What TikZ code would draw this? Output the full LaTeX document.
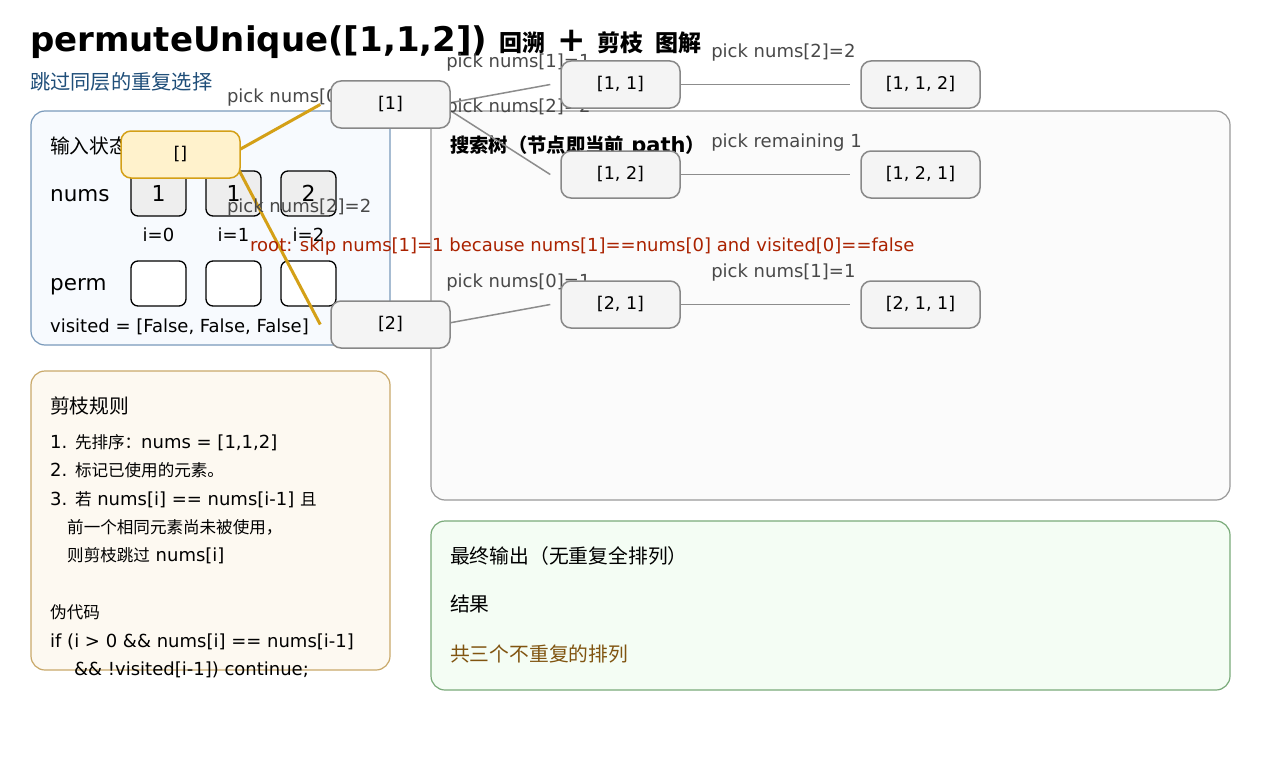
\documentclass[tikz,border=0pt]{standalone}
\usepackage{fontspec}
\setmainfont{DejaVu Sans}
\newfontfamily\cjk[Scale=0.92]{Noto Sans CJK SC}
\newcommand\zh[1]{{\cjk #1}}
\newcommand\zhT[1]{{\cjk\fontsize{25}{30}\selectfont #1}}
\definecolor{pOneS}{RGB}{122,154,187}
\definecolor{pOneF}{RGB}{247,250,254}
\definecolor{pTwoS}{RGB}{201,169,106}
\definecolor{pTwoF}{RGB}{253,249,241}
\definecolor{pThreeS}{RGB}{153,153,153}
\definecolor{pThreeF}{RGB}{251,251,251}
\definecolor{pFourS}{RGB}{122,171,122}
\definecolor{pFourF}{RGB}{244,253,244}
\definecolor{goldc}{RGB}{212,160,23}
\definecolor{rootfill}{RGB}{255,242,204}
\definecolor{nodegray}{RGB}{136,136,136}
\definecolor{nodefill}{RGB}{244,244,244}
\definecolor{edgegray}{RGB}{140,140,140}
\definecolor{lblgray}{RGB}{72,72,72}
\definecolor{redc}{RGB}{170,34,0}
\definecolor{bluec}{RGB}{31,78,121}
\definecolor{brownc}{RGB}{128,84,16}
\definecolor{cellfill}{RGB}{238,238,238}
\pgfdeclarelayer{bg}
\pgfdeclarelayer{edges}
\pgfsetlayers{bg,edges,main}
\begin{document}
\begin{tikzpicture}[x=1pt,y=-1pt,
  panel/.style={line width=1.2pt, rounded corners=14pt},
  tnode/.style={draw=nodegray, fill=nodefill, line width=1.5pt, rounded corners=10pt,
    minimum width=119pt, minimum height=47pt, inner sep=0pt, font=\fontsize{17.5}{20}\selectfont},
  rootnode/.style={tnode, draw=goldc, fill=rootfill},
  gline/.style={draw=edgegray, line width=1.5pt},
  goldline/.style={draw=goldc, line width=3pt},
  lbl/.style={anchor=west, xshift=-50pt, yshift=32pt, inner sep=0pt, text=lblgray,
    font=\fontsize{18}{21}\selectfont},
  txt/.style={anchor=base west, inner sep=0pt},
  body/.style={txt, font=\fontsize{18}{21}\selectfont},
  head/.style={txt, font=\fontsize{21.5}{25}\selectfont},
  cell/.style={draw=black, line width=1.3pt, rounded corners=7pt, minimum width=55pt,
    minimum height=45pt, inner sep=0pt, font=\fontsize{22}{26}\selectfont},
  idx/.style={anchor=base, inner sep=0pt, font=\fontsize{18}{21}\selectfont}
]
\useasboundingbox (0,0) rectangle (1280,760);
\begin{pgfonlayer}{bg}
\fill[white] (0,0) rectangle (1280,760);
% title
\node[txt, font=\fontsize{34}{40}\selectfont\bfseries] (title) at (30,52)
  {permuteUnique([1,1,2]) \zhT{回溯} + \zhT{剪枝} \zhT{图解}};
\node[txt, text=bluec, font=\fontsize{22}{26}\selectfont] (subtitle) at (30,89) {\zh{跳过同层的重复选择}};
% panels
\draw[panel, draw=pOneS, fill=pOneF] (31,111) rectangle (390,345);
\draw[panel, draw=pTwoS, fill=pTwoF] (31,371) rectangle (390,670);
\draw[panel, draw=pThreeS, fill=pThreeF] (431,111) rectangle (1230,500);
\draw[panel, draw=pFourS, fill=pFourF] (431,521) rectangle (1230,690);
% panel 1
\node[head] (p1t) at (50,153) {\zh{输入状态}};
\node[head] (numsl) at (50,201) {nums};
\node[head] (perml) at (50,290) {perm};
\node[cell, fill=cellfill] (c0) at (158.5,193.5) {1};
\node[cell, fill=cellfill] (c1) at (233.5,193.5) {1};
\node[cell, fill=cellfill] (c2) at (308.5,193.5) {2};
\node[idx] (i0) at (158.5,241) {i=0};
\node[idx] (i1) at (233.5,241) {i=1};
\node[idx] (i2) at (308.5,241) {i=2};
\node[cell, fill=white] (q0) at (158.5,283.5) {};
\node[cell, fill=white] (q1) at (233.5,283.5) {};
\node[cell, fill=white] (q2) at (308.5,283.5) {};
\node[body] (vis) at (50,332) {visited = [False, False, False]};
% panel 2
\node[head] (p2t) at (50,413) {\zh{剪枝规则}};
\node[body] (r1) at (50,448) {1. \zh{先排序：}nums = [1,1,2]};
\node[body] (r2) at (50,476.5) {2. \zh{标记已使用的元素。}};
\node[body] (r3) at (50,505) {3. \zh{若} nums[i] == nums[i-1] \zh{且}};
\node[body] (r4) at (67,533) {\zh{前一个相同元素尚未被使用，}};
\node[body] (r5) at (67,561.5) {\zh{则剪枝跳过} nums[i]};
\node[body] (r6) at (50,618.5) {\zh{伪代码}};
\node[body] (r7) at (50,647) {if (i > 0 \&\& nums[i] == nums[i-1]};
\node[body] (r8) at (74,675.5) {\&\& !visited[i-1]) continue;};
% panel 3 title
\node[head, font=\fontsize{21}{25}\selectfont\bfseries] (p3t) at (450,152) {\zh{搜索树（节点即当前} path\zh{）}};
% panel 4
\node[head] (p4t) at (450,563) {\zh{最终输出（无重复全排列）}};
\node[head] (p4a) at (450,611) {\zh{结果}};
\node[head, text=brownc] (p4b) at (450,661) {\zh{共三个不重复的排列}};
\end{pgfonlayer}
% tree nodes
\node[rootnode] (r) at (180.5,154.5) {[]};
\node[tnode] (a) at (390.5,104.5) {[1]};
\node[tnode] (b) at (390.5,324.5) {[2]};
\node[tnode] (aa) at (620.5,84.5) {[1, 1]};
\node[tnode] (ab) at (620.5,174.5) {[1, 2]};
\node[tnode] (ba) at (620.5,304.5) {[2, 1]};
\node[tnode] (aaa) at (920.5,84.5) {[1, 1, 2]};
\node[tnode] (aba) at (920.5,174.5) {[1, 2, 1]};
\node[tnode] (baa) at (920.5,304.5) {[2, 1, 1]};
\begin{pgfonlayer}{edges}
\draw[goldline] ([xshift=-10pt]r.east) -- node[lbl] {pick nums[0]=1} ([xshift=-10pt]a.west);
\draw[goldline] ([xshift=-10pt]r.east) -- node[lbl] {pick nums[2]=2} ([xshift=-10pt]b.west);
\draw[gline] ([xshift=-10pt]a.east) -- node[lbl] {pick nums[1]=1} ([xshift=-10pt]aa.west);
\draw[gline] ([xshift=-10pt]a.east) -- node[lbl] {pick nums[2]=2} ([xshift=-10pt]ab.west);
\draw[gline] ([xshift=-10pt]aa.east) -- node[lbl] {pick nums[2]=2} ([xshift=-10pt]aaa.west);
\draw[gline] ([xshift=-10pt]ab.east) -- node[lbl] {pick remaining 1} ([xshift=-10pt]aba.west);
\draw[gline] ([xshift=-10pt]b.east) -- node[lbl] {pick nums[0]=1} ([xshift=-10pt]ba.west);
\draw[gline] ([xshift=-10pt]ba.east) -- node[lbl] {pick nums[1]=1} ([xshift=-10pt]baa.west);
\node[body, text=redc] (note) at (250,251) {root: skip nums[1]=1 because nums[1]==nums[0] and visited[0]==false};
\end{pgfonlayer}
\end{tikzpicture}
\end{document}
